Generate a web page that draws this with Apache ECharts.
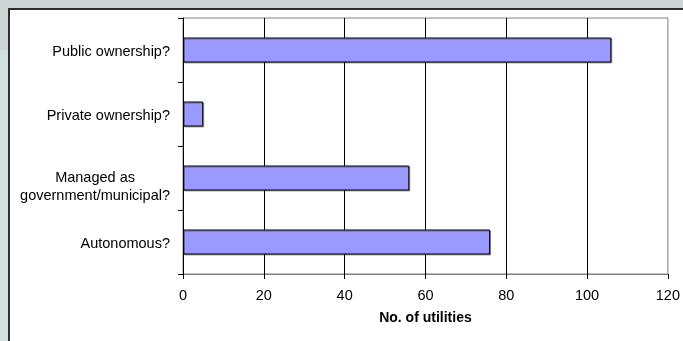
<!DOCTYPE html>
<html>
<head>
<meta charset="utf-8">
<script src="https://cdn.jsdelivr.net/npm/echarts@6/dist/echarts.min.js"></script>
<style>
  html, body { margin: 0; padding: 0; }
  body { width: 683px; height: 341px; position: relative; overflow: hidden; background: #ccd5d5; }
  #strip { position: absolute; left: 0; top: 50px; width: 10px; height: 291px; background: #cfe0df; }
  #panel { position: absolute; left: 8px; top: 8px; width: 700px; height: 400px; background: #ffffff;
           border-top: 2px solid #2e2e2e; border-left: 2px solid #2e2e2e; }
  #chart { position: absolute; left: 0; top: 0; width: 683px; height: 341px; }
</style>
</head>
<body>
<div id="strip"></div>
<div id="panel"></div>
<div id="chart"></div>
<script>
// Survey answers, top to bottom
const categories = [
  'Public ownership?',
  'Private ownership?',
  'Managed as\ngovernment/municipal?',
  'Autonomous?'
];
const utilityCounts = [106, 5, 56, 76];
const xTicks = { min: 0, max: 120, step: 20 };
const xAxisTitle = 'No. of utilities';

const FONT = 'Arial, "Liberation Sans", sans-serif';
const FS = 14.5;

// Two-line labels are centred line by line; single-line ones stay right-aligned
const yData = categories.map(c => c.indexOf('\n') >= 0
  ? { value: c, textStyle: { padding: [18, 0, 0, 0] } }
  : c);

const chart = echarts.init(document.getElementById('chart'), null, { renderer: 'canvas' });
chart.setOption({
  backgroundColor: 'transparent',
  animation: false,
  grid: {
    left: 183, right: 14, top: 18, bottom: 67,
    show: true, backgroundColor: '#ffffff',
    borderColor: '#808080', borderWidth: 1
  },
  xAxis: {
    type: 'value',
    min: xTicks.min, max: xTicks.max, interval: xTicks.step,
    name: xAxisTitle,
    nameLocation: 'middle',
    nameGap: 37,
    nameTextStyle: { fontFamily: FONT, fontSize: 14, fontWeight: 'bold', color: '#000' },
    axisLine: { show: true, lineStyle: { color: '#808080', width: 1 } },
    axisTick: { show: true, length: 5, lineStyle: { color: '#000' } },
    axisLabel: { fontFamily: FONT, fontSize: FS, color: '#000', margin: 14 },
    splitLine: { show: true, showMinLine: false, showMaxLine: false, lineStyle: { color: '#000', width: 1 } }
  },
  yAxis: {
    type: 'category',
    inverse: true,
    data: yData,
    axisLine: { show: true, lineStyle: { color: '#000', width: 1 } },
    axisTick: { show: true, length: 5, lineStyle: { color: '#000' } },
    axisLabel: {
      fontFamily: FONT, fontSize: FS, color: '#000', margin: 13, lineHeight: 18,
      padding: [4, 0, 0, 0],
      formatter: function (v) {
        const lines = v.split('\n');
        if (lines.length === 1) return v;
        return lines.map(l => '{c|' + l + '}').join('\n');
      },
      rich: {
        c: { fontFamily: FONT, fontSize: FS, color: '#000', align: 'center', lineHeight: 18 }
      }
    },
    splitLine: { show: false }
  },
  series: [{
    type: 'bar',
    data: utilityCounts,
    barWidth: 25,
    itemStyle: {
      color: '#9999ff',
      borderColor: '#000',
      borderWidth: 1,
      shadowColor: 'rgba(0,0,0,0.35)',
      shadowOffsetX: 1,
      shadowOffsetY: 1,
      shadowBlur: 0
    },
    label: { show: false }
  }]
});
</script>
</body>
</html>
